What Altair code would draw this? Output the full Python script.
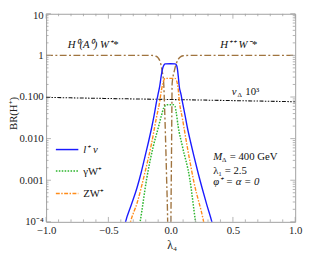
import altair as alt
import pandas as pd

# ---- data ----
lam_lnu = [-0.40, -0.362, -0.315, -0.27, -0.235, -0.205, -0.178, -0.153, -0.132, -0.114, -0.1, -0.088,
           -0.075, -0.063, -0.053, -0.043, 0.0, 0.036, 0.046, 0.054, 0.061, 0.069, 0.082, 0.095,
           0.115, 0.135, 0.16, 0.187, 0.218, 0.252, 0.29, 0.331, 0.37]
br_lnu = [3e-5, 1e-4, 2.6e-4, 6.6e-4, 1.6e-3, 3.8e-3, 8.3e-3, 0.018, 0.037, 0.075, 0.12, 0.18,
          0.33, 0.50, 0.59, 0.625, 0.63, 0.625, 0.59, 0.48, 0.32, 0.18, 0.12, 0.075,
          0.037, 0.018, 8.3e-3, 3.8e-3, 1.6e-3, 6.6e-4, 2.6e-4, 1e-4, 3e-5]

lam_gw = [-0.27, -0.245, -0.192, -0.14, -0.10, -0.075, -0.055, -0.04, -0.03,
          0.0, 0.022, 0.035, 0.045, 0.06, 0.095, 0.153, 0.20, 0.22]
br_gw = [4e-5, 1e-4, 1.1e-3, 6.4e-3, 0.018, 0.035, 0.055, 0.063, 0.065,
         0.065, 0.065, 0.06, 0.042, 0.02, 6.4e-3, 1.1e-3, 1e-4, 4e-5]

lam_zw = [-0.36, -0.322, -0.27, -0.205, -0.153, -0.114, -0.088, -0.075, -0.063, -0.053, -0.043,
          0.0, 0.035, 0.045, 0.054, 0.061, 0.069, 0.095, 0.135, 0.187, 0.265, 0.29]
br_zw = [3e-5, 1e-4, 2.8e-4, 1.6e-3, 7.7e-3, 0.032, 0.077, 0.14, 0.21, 0.26, 0.28,
         0.28, 0.28, 0.26, 0.21, 0.15, 0.085, 0.03, 6e-3, 9e-4, 1e-4, 4e-5]

lam_h0 = [-1.0, -0.15, -0.12, -0.10, -0.082, -0.069, -0.056, -0.048, -0.040, -0.032, -0.024, -0.020]
br_h0 = [1.0, 1.0, 0.96, 0.87, 0.67, 0.43, 0.22, 0.05, 0.008, 1e-3, 1e-4, 1e-5]

lam_hpp = [-0.002, 0.002, 0.005, 0.008, 0.010, 0.012, 0.030, 0.048, 0.075, 0.10, 0.14, 1.0]
br_hpp = [1e-5, 1e-4, 1e-3, 0.01, 0.06, 0.21, 0.43, 0.67, 0.90, 0.98, 1.0, 1.0]

lam_vd = [-1.0, -0.5, 0.0, 0.5, 1.0]
br_vd = [0.098, 0.092, 0.087, 0.082, 0.077]

x_major = [-1.0, -0.5, 0.0, 0.5, 1.0]
x_minor = [-0.9, -0.8, -0.7, -0.6, -0.4, -0.3, -0.2, -0.1, 0.1, 0.2, 0.3, 0.4, 0.6, 0.7, 0.8, 0.9]
y_major = [1e-4, 1e-3, 1e-2, 1e-1, 1.0, 10.0]
y_minor = [k * 10.0 ** n for n in range(-4, 1) for k in range(2, 10)]

legend_labels = ["l⁺ ν", "γW⁺", "ZW⁺"]

FONT = "Liberation Serif"
W, H = 255, 213

BLUE = "#1a1aff"
GREEN = "#2db52d"
ORANGE = "#ff8c1a"
BROWN = "#a0743f"
FRAME = "#a0a0a0"

xs = alt.Scale(domain=[-1, 1], nice=False, zero=False)
ys = alt.Scale(type="log", domain=[1e-4, 10], nice=False)

x_axis = alt.Axis(values=x_major, ticks=False, domain=False, grid=False,
                  labelExpr="replace(format(datum.value, '.1f'), '-', '−')",
                  labelFont=FONT, labelFontSize=11, labelColor="#222", labelPadding=3,
                  labelFlush=False, labelOverlap=False,
                  title="λ₄", titleFont=FONT, titleFontSize=12, titleFontWeight="normal",
                  titleColor="#222", titleX=W / 2 + 1, titleY=23, titleBaseline="middle",
                  titleAlign="center")
y_axis = alt.Axis(values=y_major, ticks=False, domain=False, grid=False,
                  labelExpr=("datum.value >= 5 ? '10' : datum.value >= 0.5 ? '1' : "
                             "datum.value >= 0.05 ? '0.100' : datum.value >= 0.005 ? '0.010' : "
                             "datum.value >= 0.0005 ? '0.001' : '10⁻⁴'"),
                  labelOffset={"condition": {"test": "datum.value >= 5", "value": 1.5}, "value": 0},
                  labelFont=FONT, labelFontSize=11, labelColor="#222", labelPadding=3,
                  labelFlush=False, labelOverlap=False,
                  title="BR(H⁺)", titleFont=FONT, titleFontSize=11, titleFontWeight="normal",
                  titleColor="#222", titleX=-33, titleY=H / 2 - 5, titleAngle=270,
                  titleBaseline="middle", titleAlign="center")

X = lambda: alt.X("x:Q", scale=xs, axis=x_axis)
Y = lambda: alt.Y("y:Q", scale=ys, axis=y_axis)


def series(lam, br, color, dash, width=1.4):
    df = pd.DataFrame({"x": lam, "y": br})
    kw = dict(color=color, strokeWidth=width, clip=True, interpolate="monotone")
    if dash:
        kw["strokeDash"] = dash
    return alt.Chart(df).mark_line(**kw).encode(x=X(), y=Y(), order="x:Q")


lines = [
    series(lam_vd, br_vd, "#111", [4, 1.5, 1.5, 1.5, 1.5, 1.5], 1.1),
    series(lam_h0, br_h0, BROWN, [7, 2.5, 2, 2.5], 1.4),
    series(lam_hpp, br_hpp, BROWN, [7, 2.5, 2, 2.5], 1.4),
    series(lam_lnu, br_lnu, BLUE, None, 1.4),
    series(lam_zw, br_zw, ORANGE, [4, 1.5, 1.5, 1.5], 1.4),
    series(lam_gw, br_gw, GREEN, [1.6, 1.4], 1.5),
]


# ---- frame ticks (inside) ----
def yticks(vals, length):
    df = pd.DataFrame({"y": vals})
    left = alt.Chart(df).mark_rule(color=FRAME, strokeWidth=0.8).encode(
        y=Y(), x=alt.value(0), x2=alt.value(length))
    right = alt.Chart(df).mark_rule(color=FRAME, strokeWidth=0.8).encode(
        y=Y(), x=alt.value(W), x2=alt.value(W - length))
    return [left, right]


def xticks(vals, length):
    df = pd.DataFrame({"x": vals})
    bottom = alt.Chart(df).mark_rule(color=FRAME, strokeWidth=0.8).encode(
        x=X(), y=alt.value(H), y2=alt.value(H - length))
    top = alt.Chart(df).mark_rule(color=FRAME, strokeWidth=0.8).encode(
        x=X(), y=alt.value(0), y2=alt.value(length))
    return [bottom, top]


ticks = yticks(y_major, 5) + yticks(y_minor, 2.5) + xticks(x_major, 5) + xticks(x_minor, 2.5)

one = pd.DataFrame({"a": [0]})


def txt(s, x, y, size=11, style="normal", align="left", baseline="alphabetic"):
    return alt.Chart(one).mark_text(text=s, font=FONT, fontSize=size, fontStyle=style,
                                    align=align, baseline=baseline, color="#111").encode(
        x=alt.value(x), y=alt.value(y))


annots = [
    txt("H⁰(A⁰) W⁺*", 48, 35, 11, "italic", "center"),
    txt("H⁺⁺ W⁻*", 197, 35, 11, "italic", "center"),
    txt("v", 190, 83, 11, "italic"),
    txt("Δ", 196, 85, 7),
    txt("10³", 204, 83, 11),
    txt("M", 171, 150, 11, "italic"),
    txt("Δ", 180, 152, 7),
    txt("= 400 GeV", 188, 150, 11),
    txt("λ₁ = 2.5", 171, 164, 11),
    txt("φ⁺ = α = 0", 171, 175, 11, "italic"),
]

# ---- legend ----
leg_y = [139, 161, 184]
leg_style = [(BLUE, None, "italic"), (GREEN, [1.6, 1.4], "normal"),
             (ORANGE, [4, 1.5, 1.5, 1.5], "normal")]
legend = []
for lab, yy, (c, d, st) in zip(legend_labels, leg_y, leg_style):
    kw = dict(color=c, strokeWidth=1.5)
    if d:
        kw["strokeDash"] = d
    legend.append(alt.Chart(one).mark_rule(**kw).encode(
        x=alt.value(10), x2=alt.value(33), y=alt.value(yy)))
    legend.append(txt(lab, 38, yy + 4, 11, st))

chart = alt.layer(*lines, *ticks, *annots, *legend).properties(
    width=W, height=H,
    autosize=alt.AutoSizeParams(type="none"),
    padding={"left": 39, "top": 3, "right": 8, "bottom": 30},
).configure_view(stroke=FRAME, strokeWidth=1)

chart.save("out.html", embed_options={"renderer": "svg", "actions": False})
